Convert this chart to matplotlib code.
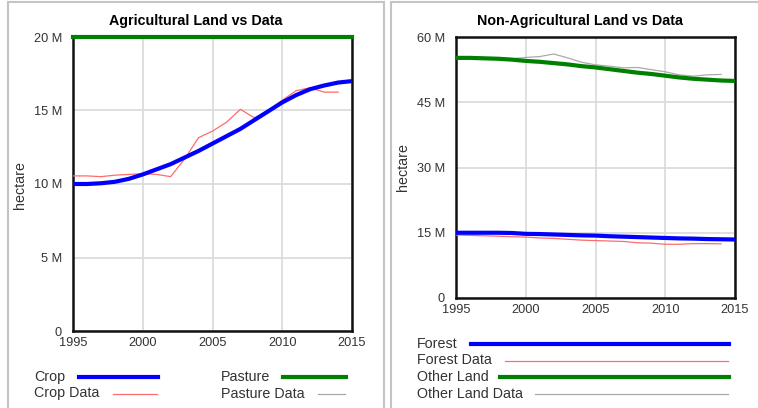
import matplotlib
matplotlib.use("Agg")
import matplotlib.pyplot as plt
from matplotlib.lines import Line2D
from matplotlib.patches import Rectangle
from matplotlib.ticker import FuncFormatter

plt.rcParams["font.family"] = ["Liberation Sans", "DejaVu Sans"]

years = list(range(1995, 2016))
data_years = list(range(1995, 2015))

# agricultural land, hectares (millions)
crop = [10.0, 10.0, 10.05, 10.15, 10.35, 10.65, 11.0, 11.35, 11.8, 12.25, 12.75,
        13.25, 13.75, 14.35, 14.95, 15.55, 16.05, 16.45, 16.7, 16.9, 17.0]
crop_data = [10.55, 10.55, 10.5, 10.6, 10.65, 10.7, 10.65, 10.5, 11.7, 13.15,
             13.6, 14.2, 15.08, 14.5, 15.0, 15.7, 16.35, 16.55, 16.25, 16.25]
pasture = [20.0] * len(years)

# non-agricultural land, hectares (millions)
forest = [15.0, 15.0, 15.0, 15.0, 14.95, 14.75, 14.7, 14.6, 14.5, 14.4, 14.35,
          14.2, 14.1, 14.0, 13.9, 13.8, 13.7, 13.65, 13.55, 13.5, 13.45]
forest_data = [14.5, 14.4, 14.3, 14.2, 14.1, 14.0, 13.8, 13.7, 13.5, 13.3,
               13.2, 13.1, 13.0, 12.7, 12.6, 12.35, 12.35, 12.5, 12.5, 12.45]
other_land = [55.2, 55.2, 55.1, 55.0, 54.8, 54.5, 54.3, 54.0, 53.7, 53.3, 53.0,
              52.6, 52.2, 51.8, 51.5, 51.1, 50.7, 50.4, 50.2, 50.0, 49.9]
other_land_data = [55.2, 55.2, 55.1, 55.0, 55.0, 55.3, 55.5, 56.1, 55.2, 54.2,
                   53.6, 53.3, 52.9, 53.0, 52.5, 52.0, 51.3, 51.0, 51.3, 51.4]

BLUE = "#0000ff"
RED = "#ff6b6b"
GREEN = "#008000"
GREY = "#aaaaaa"
TEXT = "#333333"

W, H = 758, 408
fig = plt.figure(figsize=(W / 100, H / 100), dpi=100)


def px(x, y):
    return x / W, 1 - y / H


def make_axes(left, top, right, bottom):
    return fig.add_axes([left / W, 1 - bottom / H, (right - left) / W, (bottom - top) / H])


def millions(v, pos):
    return "0" if v == 0 else f"{v:g} M"


def style(ax, ymax, step, title, title_x):
    ax.set_xlim(1995, 2015)
    ax.set_ylim(0, ymax)
    ax.set_xticks(range(1995, 2016, 5))
    ax.set_yticks([i * step for i in range(int(ymax / step) + 1)])
    ax.yaxis.set_major_formatter(FuncFormatter(millions))
    ax.grid(True, color="#d9d9d9", lw=1.2)
    ax.set_axisbelow(True)
    for s in ax.spines.values():
        s.set_linewidth(1.8)
        s.set_color("#111111")
    ax.tick_params(length=0, labelsize=9.2, labelcolor=TEXT)
    ax.tick_params(axis="y", pad=8)
    ax.tick_params(axis="x", pad=4.5)
    fig.text(*px(title_x, 21), title, ha="center", va="center",
             fontsize=10.3, fontweight="bold")


def legend_entry(label, x, y, x0, x1, color, lw):
    fig.text(*px(x, y), label, ha="left", va="center", fontsize=10.3, color=TEXT)
    fig.add_artist(Line2D([x0 / W, x1 / W], [1 - y / H, 1 - y / H],
                          color=color, lw=lw, transform=fig.transFigure))


# panel frames
for left, right in [(8, 384), (391, 770)]:
    fig.add_artist(Rectangle(px(left, 420), (right - left) / W, 418 / H,
                             transform=fig.transFigure, fill=False,
                             ec="#c4c4c4", lw=1.5))

# left panel
ax1 = make_axes(73, 37, 352, 331)
style(ax1, 20, 5, "Agricultural Land vs Data", 196)
ax1.plot(data_years, crop_data, color=RED, lw=0.9, zorder=3)
ax1.plot(years, crop, color=BLUE, lw=3, zorder=4)
ax1.plot(years, pasture, color=GREEN, lw=3, zorder=5, clip_on=False)
fig.text(*px(20, 185), "hectare", rotation=90, ha="center", va="center",
         fontsize=10.3, color=TEXT)

legend_entry("Crop", 34, 377, 79, 158, BLUE, 3)
legend_entry("Crop Data", 34, 393.5, 113, 157, RED, 0.9)
legend_entry("Pasture", 221, 377, 283, 346, GREEN, 3)
legend_entry("Pasture Data", 221, 393.5, 318, 345, GREY, 0.9)

# right panel
ax2 = make_axes(456, 37, 735, 298)
style(ax2, 60, 15, "Non-Agricultural Land vs Data", 580)
ax2.plot(data_years, forest_data, color=RED, lw=0.9, zorder=3)
ax2.plot(data_years, other_land_data, color=GREY, lw=0.9, zorder=3)
ax2.plot(years, forest, color=BLUE, lw=3, zorder=4)
ax2.plot(years, other_land, color=GREEN, lw=3, zorder=4)
fig.text(*px(403, 167), "hectare", rotation=90, ha="center", va="center",
         fontsize=10.3, color=TEXT)

legend_entry("Forest", 417, 343.5, 471, 729, BLUE, 3)
legend_entry("Forest Data", 417, 360.5, 505, 728, RED, 0.9)
legend_entry("Other Land", 417, 377, 500, 729, GREEN, 3)
legend_entry("Other Land Data", 417, 393.5, 535, 728, GREY, 0.9)

fig.savefig("out.png", dpi=100)
